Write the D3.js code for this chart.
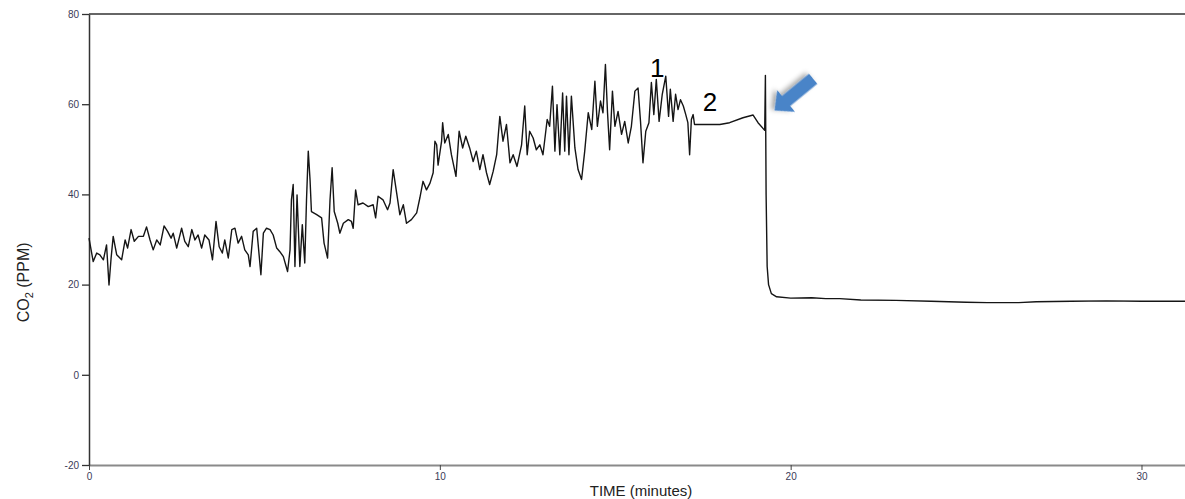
<!DOCTYPE html>
<html>
<head>
<meta charset="utf-8">
<script src="https://cdn.jsdelivr.net/npm/d3@7"></script>
<style>
  html, body { margin: 0; padding: 0; background: #fff; }
  svg { display: block; }
</style>
</head>
<body>
<div id="app"></div>
<script>
// time in minutes, CO2 in ppm
const times = [
  0.00, 0.12, 0.22, 0.31, 0.41, 0.50, 0.57, 0.63, 0.69, 0.79, 0.93, 1.03, 1.10, 1.20, 1.29, 1.41,
  1.55, 1.64, 1.74, 1.83, 1.93, 2.03, 2.14, 2.24, 2.34, 2.40, 2.50, 2.64, 2.73, 2.83, 2.93, 3.02,
  3.11, 3.21, 3.30, 3.42, 3.52, 3.62, 3.71, 3.80, 3.87, 3.97, 4.07, 4.16, 4.25, 4.35, 4.44, 4.54,
  4.59, 4.68, 4.78, 4.90, 4.97, 5.06, 5.16, 5.25, 5.35, 5.44, 5.54, 5.66, 5.73, 5.77, 5.82, 5.87,
  5.93, 6.01, 6.08, 6.15, 6.20, 6.25, 6.30, 6.34, 6.49, 6.63, 6.70, 6.80, 6.87, 6.93, 6.99, 7.09,
  7.15, 7.25, 7.39, 7.48, 7.53, 7.60, 7.67, 7.81, 7.96, 8.10, 8.17, 8.24, 8.38, 8.51, 8.58, 8.67,
  8.77, 8.86, 8.96, 9.05, 9.19, 9.34, 9.43, 9.52, 9.62, 9.72, 9.81, 9.86, 9.91, 9.95, 10.05, 10.08,
  10.14, 10.24, 10.33, 10.46, 10.55, 10.65, 10.74, 10.85, 10.95, 11.04, 11.14, 11.23, 11.33, 11.42, 11.52, 11.62,
  11.71, 11.80, 11.90, 12.00, 12.09, 12.20, 12.33, 12.42, 12.49, 12.56, 12.66, 12.75, 12.85, 12.94, 13.06, 13.13,
  13.21, 13.28, 13.34, 13.42, 13.50, 13.56, 13.61, 13.68, 13.75, 13.85, 13.94, 14.04, 14.13, 14.23, 14.33, 14.42,
  14.49, 14.58, 14.65, 14.72, 14.78, 14.84, 14.92, 14.99, 15.08, 15.18, 15.27, 15.37, 15.46, 15.56, 15.65, 15.72,
  15.79, 15.87, 15.96, 16.03, 16.10, 16.17, 16.25, 16.34, 16.44, 16.52, 16.57, 16.65, 16.72, 16.79, 16.86, 16.94,
  17.01, 17.07, 17.12, 17.17, 17.22, 17.26, 17.60, 17.98, 18.26, 18.64, 18.93, 19.07, 19.26, 19.28, 19.30, 19.33,
  19.37, 19.45, 19.60, 20.00, 20.60, 21.00, 21.40, 22.00, 23.00, 24.00, 25.00, 25.60, 26.50, 27.00, 28.00, 29.00,
  30.00, 31.24
];
const co2 = [
  30.3, 25.1, 27.0, 26.6, 25.5, 28.8, 19.9, 25.9, 30.7, 26.6, 25.5, 29.9, 28.1, 32.2, 29.6, 30.7,
  30.7, 32.8, 29.9, 27.7, 29.9, 28.8, 33.0, 31.8, 30.3, 31.4, 28.1, 32.5, 29.6, 28.4, 32.2, 29.9,
  31.0, 28.1, 31.0, 29.9, 25.5, 34.0, 28.4, 27.0, 29.9, 25.9, 32.2, 32.5, 29.2, 30.7, 27.7, 26.6,
  24.0, 31.8, 32.5, 22.2, 31.4, 32.5, 32.2, 31.0, 28.1, 27.3, 26.2, 22.9, 27.7, 38.8, 42.2, 24.0,
  39.9, 24.0, 33.3, 24.8, 38.8, 49.6, 43.3, 36.2, 35.5, 34.8, 29.2, 25.9, 38.8, 45.9, 36.2, 33.6,
  31.4, 33.6, 34.4, 34.0, 32.5, 41.0, 37.7, 38.1, 37.3, 37.7, 34.8, 39.6, 38.8, 36.6, 38.1, 45.5,
  40.3, 35.5, 37.7, 33.6, 34.4, 35.9, 39.2, 42.9, 41.0, 42.5, 44.8, 51.8, 51.0, 46.5, 51.8, 55.9,
  51.4, 53.3, 48.8, 44.0, 54.0, 50.3, 52.9, 50.3, 47.3, 49.6, 45.5, 48.8, 44.8, 42.2, 45.1, 48.8,
  57.3, 51.8, 55.5, 47.0, 48.8, 46.2, 51.0, 59.6, 48.8, 54.0, 52.5, 49.9, 51.0, 48.8, 56.6, 55.1,
  64.0, 49.6, 59.9, 48.8, 62.5, 49.6, 61.8, 48.8, 61.8, 50.3, 45.5, 43.3, 49.6, 58.1, 54.4, 65.1,
  55.1, 60.7, 58.1, 68.8, 58.1, 49.9, 62.9, 55.1, 58.4, 53.3, 56.2, 51.4, 55.1, 62.9, 63.6, 56.2,
  47.0, 54.0, 55.9, 64.8, 57.7, 65.5, 56.2, 62.2, 66.2, 57.3, 63.3, 56.2, 62.2, 58.8, 61.0, 59.6,
  57.7, 55.9, 48.8, 56.6, 57.7, 55.5, 55.5, 55.5, 55.9, 57.0, 57.6, 55.9, 54.2, 66.4, 40.0, 24.0,
  20.0, 18.0, 17.3, 17.0, 17.1, 16.9, 16.9, 16.6, 16.5, 16.3, 16.1, 16.0, 16.0, 16.2, 16.3, 16.4,
  16.3, 16.3
];

const xTicks = [0, 10, 20, 30];
const yTicks = [-20, 0, 20, 40, 60, 80];

// annotation anchors in data units
const notes = [
  { label: '1', t: 16.2, v: 66.0 },
  { label: '2', t: 17.7, v: 58.4 },
];
const arrowTip = { t: 19.54, v: 58.6 };

const W = 1185, H = 499;
const FONT = '"Liberation Sans", Arial, sans-serif';

const x = d3.scaleLinear().domain([0, 31.24]).range([89, 1185]);
const y = d3.scaleLinear().domain([-20, 80]).range([465, 14]);

const svg = d3.select('#app')
  .append('svg')
  .attr('width', W)
  .attr('height', H);

const defs = svg.append('defs');
defs.append('filter')
  .attr('id', 'shadow')
  .attr('x', '-50%').attr('y', '-50%')
  .attr('width', '200%').attr('height', '200%')
  .append('feDropShadow')
  .attr('dx', 2).attr('dy', 3)
  .attr('stdDeviation', 2.5)
  .attr('flood-color', '#000')
  .attr('flood-opacity', 0.35);

// top border
svg.append('line')
  .attr('x1', x(0)).attr('x2', W)
  .attr('y1', y(80)).attr('y2', y(80))
  .attr('stroke', '#333')
  .attr('stroke-width', 1.3);

// bottom axis
const xAxis = svg.append('g')
  .attr('transform', `translate(0,${y(-20)})`)
  .call(d3.axisBottom(x).tickValues(xTicks).tickFormat(d => String(d))
    .tickSize(5).tickSizeOuter(0).tickPadding(3));
xAxis.select('.domain').attr('stroke', '#8a8a8a').attr('stroke-width', 2);
xAxis.selectAll('.tick line').attr('stroke', '#444');
xAxis.selectAll('.tick text')
  .attr('fill', '#3b3b58')
  .style('font', `10px ${FONT}`);

// left axis
const yAxis = svg.append('g')
  .attr('transform', `translate(${x(0)},0)`)
  .call(d3.axisLeft(y).tickValues(yTicks).tickFormat(d => String(d))
    .tickSize(7).tickSizeOuter(0).tickPadding(3));
yAxis.select('.domain').attr('stroke', '#333').attr('stroke-width', 1.5);
yAxis.selectAll('.tick line').attr('stroke', '#333').attr('stroke-width', 1.3);
yAxis.selectAll('.tick text')
  .attr('fill', '#3b3b58')
  .style('font', `10px ${FONT}`);

// trace
const series = times.map((t, i) => ({ t, v: co2[i] }));
svg.append('path')
  .datum(series)
  .attr('fill', 'none')
  .attr('stroke', '#151515')
  .attr('stroke-width', 1.4)
  .attr('stroke-linejoin', 'round')
  .attr('d', d3.line().x(d => x(d.t)).y(d => y(d.v)));

// axis titles
const yTitle = svg.append('text')
  .attr('transform', `translate(29,${y(20.5)}) rotate(-90)`)
  .attr('text-anchor', 'middle')
  .attr('fill', '#222')
  .style('font', `16px ${FONT}`);
yTitle.append('tspan').text('CO');
yTitle.append('tspan').attr('dy', 4).style('font-size', '11px').text('2');
yTitle.append('tspan').attr('dy', -4).text(' (PPM)');

svg.append('text')
  .attr('x', 641)
  .attr('y', 496)
  .attr('text-anchor', 'middle')
  .attr('fill', '#222')
  .style('font', `15px ${FONT}`)
  .text('TIME (minutes)');

// numbered annotations
svg.selectAll('text.note')
  .data(notes)
  .join('text')
  .attr('class', 'note')
  .attr('x', d => x(d.t))
  .attr('y', d => y(d.v))
  .attr('text-anchor', 'middle')
  .attr('fill', '#000')
  .style('font', `26px ${FONT}`)
  .text(d => d.label);

// blue block arrow pointing at the spike
const L = 50, head = 15, shaftW = 6.5, headW = 14;
const arrowPts = [
  [-L, -shaftW], [-head, -shaftW], [-head, -headW], [0, 0],
  [-head, headW], [-head, shaftW], [-L, shaftW]
];
svg.append('polygon')
  .attr('points', arrowPts.map(p => p.join(',')).join(' '))
  .attr('transform', `translate(${x(arrowTip.t)},${y(arrowTip.v)}) rotate(140.6)`)
  .attr('fill', '#4a84c8')
  .attr('filter', 'url(#shadow)');
</script>
</body>
</html>
